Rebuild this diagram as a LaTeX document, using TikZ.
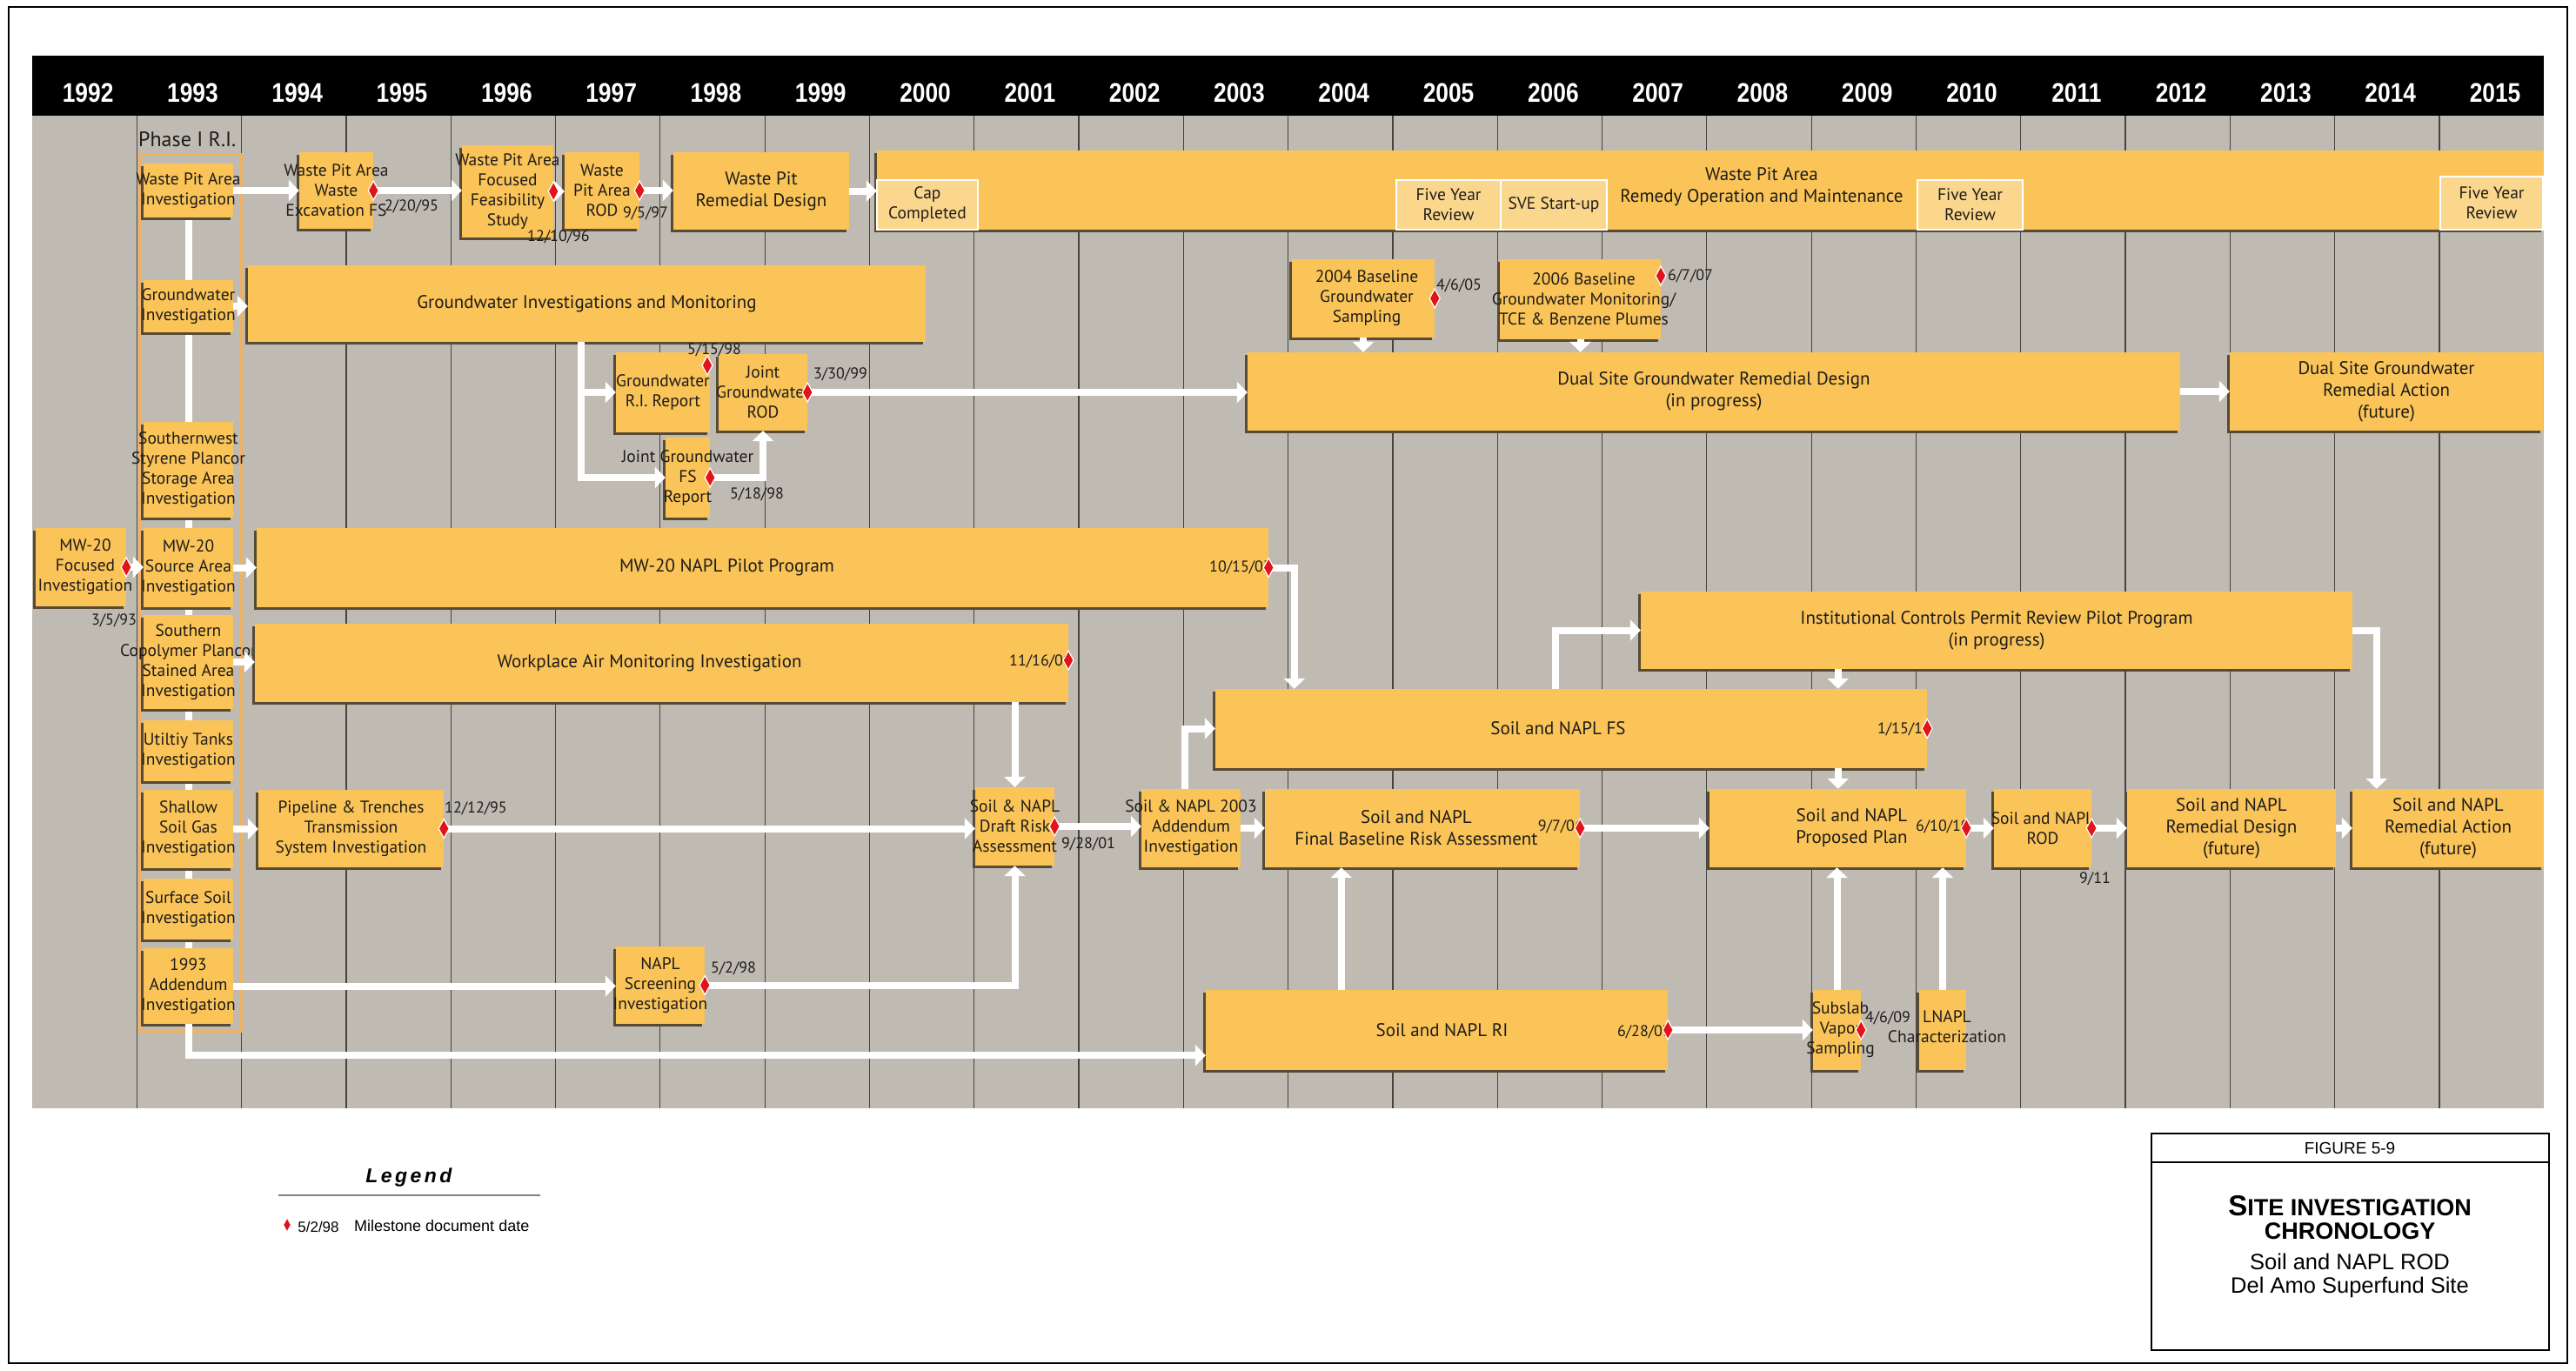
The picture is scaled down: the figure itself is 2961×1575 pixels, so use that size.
\documentclass[tikz,border=0pt]{standalone}
\usepackage{fontspec}
\usetikzlibrary{arrows.meta,calc,shadows}
\newfontfamily\bxf{PT Sans}
\newfontfamily\arf{Liberation Sans}
\newfontfamily\yrf[FakeStretch=0.85]{Liberation Sans}
\newcommand\myfs[2]{\fontsize{#1}{#2}\selectfont}
\definecolor{boxc}{RGB}{250,196,88}
\definecolor{lightc}{RGB}{251,215,142}
\definecolor{panelc}{RGB}{191,186,178}
\definecolor{shadc}{RGB}{88,74,52}
\definecolor{txtc}{RGB}{30,28,26}
\definecolor{mred}{RGB}{225,20,25}
\definecolor{phasec}{RGB}{240,178,98}
\definecolor{gridc}{RGB}{70,68,66}
\pgfdeclarelayer{bgA}\pgfdeclarelayer{bgB}
\pgfsetlayers{bgA,bgB,main}
\tikzset{
 box/.style={fill=boxc, inner sep=0pt, drop shadow={shadow xshift=-3pt,shadow yshift=-3pt,opacity=1,fill=shadc}},
 ibox/.style={fill=lightc, draw=white, line width=2pt, inner sep=0pt},
 txt/.style={inner sep=0pt, align=center, text=txtc, font=\bxf\myfs{19.5}{23}},
 bigt/.style={font=\bxf\myfs{21}{25}},
 dt/.style={inner sep=0pt, text=txtc, font=\bxf\myfs{18}{20}},
 yr/.style={font=\yrf\bfseries\myfs{31}{32}, text=white, inner sep=0pt},
 wl/.style={draw=white, line width=8pt},
 arr/.style={wl, -{Triangle[width=24pt,length=12pt]}},
 ms/.pic={\filldraw[fill=mred, draw=white, line width=1.2pt] (0,-11)--(6,0)--(0,11)--(-6,0)--cycle;},
}
\newcommand\bx[7][]{%
 \node[box,minimum width={#5-#3},minimum height={#6-#4}] (#2) at ({(#3+#5)/2},{(#4+#6)/2}) {};
 \node[txt,#1] (#2t) at (#2.center) {#7};}
\newcommand\ib[6]{%
 \node[ibox,minimum width={#4-#2},minimum height={#5-#3}] (#1) at ({(#2+#4)/2},{(#3+#5)/2}) {};
 \node[txt] (#1t) at (#1.center) {#6};}
\begin{document}
\begin{tikzpicture}[x=1pt,y=-1pt]
\useasboundingbox (0,0) rectangle (2961,1575);

% panel and header
\begin{pgfonlayer}{bgA}
\fill[white] (0,0) rectangle (2961,1575);
\draw[line width=2pt] (10,8) rectangle (2951,1567);
\fill[panelc] (37,133) rectangle (2924,1274);
\foreach \k in {1,...,23} \draw[gridc, line width=1.2pt] ({37+\k*120.3},133) -- ({37+\k*120.3},1274);
\fill[black] (37,64) rectangle (2924,133);
\end{pgfonlayer}
\foreach \yy [count=\k from 0] in {1992,...,2015} {\node[yr] (y\yy) at ({37+(\k+0.5)*120.3+4},107) {\yy};}

% Phase I column
\node[font=\bxf\myfs{24}{26}, anchor=west, text=txtc, inner sep=0pt] (ph) at (159,160) {Phase I R.I.};
\begin{pgfonlayer}{bgB}
\draw[phasec, line width=3pt] (160,177) rectangle (277,1185);
\end{pgfonlayer}
\bx{wpai}{165}{188}{268}{250}{Waste Pit Area\\Investigation}
\bx{gwi}{165}{322}{268}{382}{Groundwater\\Investigation}
\bx{sss}{165}{485}{268}{595}{Southernwest\\Styrene Plancor\\Storage Area\\Investigation}
\bx{mws}{165}{607}{268}{698}{MW-20\\Source Area\\Investigation}
\bx{scp}{165}{707}{268}{815}{Southern\\Copolymer Plancor\\Stained Area\\Investigation}
\bx{uti}{165}{828}{268}{898}{Utiltiy Tanks\\Investigation}
\bx{ssg}{165}{908}{268}{998}{Shallow\\Soil Gas\\Investigation}
\bx{ssi}{165}{1010}{268}{1080}{Surface Soil\\Investigation}
\bx{add}{165}{1090}{268}{1177}{1993\\Addendum\\Investigation}
\begin{pgfonlayer}{bgB}
\draw[wl] (wpai.south) -- (add.north);
\end{pgfonlayer}
\bx[xshift=5pt]{mwf}{41}{607}{145}{697}{MW-20\\Focused\\Investigation}

% top row
\bx{wpef}{344}{175}{429}{263}{Waste Pit Area\\Waste\\Excavation FS}
\bx{wpff}{531}{167}{636}{273}{Waste Pit Area\\Focused\\Feasibility\\Study}
\bx{wprod}{649}{175}{735}{263}{Waste\\Pit Area\\ROD}
\bx[bigt]{wprd}{774}{175}{976}{264}{Waste Pit\\Remedial Design}
\bx{wpom}{1008}{173}{2924}{264}{}
\node[txt,bigt] (wpomlbl) at (2025,215) {Waste Pit Area\\Remedy Operation and Maintenance};
\ib{cap}{1008}{207}{1124}{264}{Cap\\Completed}
\ib{fyr1}{1605}{207}{1725}{264}{Five Year\\Review}
\ib{sve}{1725}{207}{1847}{264}{SVE Start-up}
\ib{fyr2}{2204}{207}{2325}{264}{Five Year\\Review}
\ib{fyr3}{2805}{203}{2923}{264}{Five Year\\Review}

% groundwater
\bx[bigt]{gim}{285}{305}{1064}{393}{Groundwater Investigations and Monitoring}
\bx{gwri}{708}{405}{816}{497}{Groundwater\\R.I. Report}
\bx{jgrod}{826}{407}{928}{495}{Joint\\Groundwater\\ROD}
\bx{jgfs}{765}{503}{816}{595}{Joint Groundwater\\FS\\Report}
\bx[xshift=4pt]{b04}{1485}{298}{1649}{388}{2004 Baseline\\Groundwater\\Sampling}
\bx[xshift=4pt]{b06}{1724}{298}{1909}{390}{2006 Baseline\\Groundwater Monitoring/\\TCE \& Benzene Plumes}
\bx[bigt]{dsd}{1434}{405}{2506}{495}{Dual Site Groundwater Remedial Design\\(in progress)}
\bx[bigt]{dsa}{2563}{405}{2923}{495}{Dual Site Groundwater\\Remedial Action\\(future)}

% middle
\bx[bigt,xshift=-41pt]{nap}{295}{607}{1458}{698}{MW-20 NAPL Pilot Program}
\bx[bigt,xshift=-14pt]{wam}{293}{717}{1228}{807}{Workplace Air Monitoring Investigation}
\bx[bigt]{ic}{1886}{680}{2704}{769}{Institutional Controls Permit Review Pilot Program\\(in progress)}
\bx[bigt,xshift=-15pt]{fs}{1397}{792}{2215}{883}{Soil and NAPL FS}

% bottom
\bx{pip}{297}{908}{510}{997}{Pipeline \& Trenches\\Transmission\\System Investigation}
\bx{dra}{1121}{905}{1212}{995}{Soil \& NAPL\\Draft Risk\\Assessment}
\bx{a03}{1312}{907}{1426}{997}{Soil \& NAPL 2003\\Addendum\\Investigation}
\bx[bigt,xshift=-7pt]{fba}{1454}{907}{1816}{997}{Soil and NAPL\\Final Baseline Risk Assessment}
\bx[bigt,xshift=16pt]{pp}{1965}{907}{2260}{997}{Soil and NAPL\\Proposed Plan}
\bx{rod}{2292}{907}{2404}{997}{Soil and NAPL\\ROD}
\bx[bigt]{rd}{2445}{907}{2685}{997}{Soil and NAPL\\Remedial Design\\(future)}
\bx[bigt]{ra}{2704}{907}{2924}{997}{Soil and NAPL\\Remedial Action\\(future)}
\bx{nsi}{708}{1088}{810}{1177}{NAPL\\Screening\\Investigation}
\bx[bigt,xshift=6pt]{ri}{1386}{1138}{1917}{1230}{Soil and NAPL RI}
\bx[xshift=4pt]{ssv}{2084}{1138}{2139}{1230}{Subslab\\Vapor\\Sampling}
\bx[xshift=5pt,yshift=4pt]{lnc}{2206}{1138}{2260}{1230}{LNAPL\\Characterization}

% connectors
\draw[arr] (wpai.east) -- (wpai.east -| wpef.west);
\draw[arr] (wpef.east) -- (wpef.east -| wpff.west);
\draw[arr] (wpff.east) -- (wpff.east -| wprod.west);
\draw[arr] (wprod.east) -- (wprod.east -| wprd.west);
\draw[arr] (wprd.east) -- (wprd.east -| wpom.west);
\draw[arr] (gwi.east) -- (gwi.east -| gim.west);
\coordinate (gx) at ($(gwri.west)+(-40,0)$);
\draw[arr] (gx |- gim.south) |- (gwri.west);
\draw[arr] (gx |- gim.south) |- (jgfs.west);
\draw[arr] (jgfs.east) -| (jgrod.south);
\draw[arr] (jgrod.east) -- (jgrod.east -| dsd.west);
\draw[arr] (dsd.east) -- (dsd.east -| dsa.west);
\draw[arr] (b04.south) -- (b04.south |- dsd.north);
\draw[arr] (b06.south) -- (b06.south |- dsd.north);
\draw[arr] (mwf.east) -- (mwf.east -| mws.west);
\draw[arr] (mws.east) -- (mws.east -| nap.west);
\coordinate (fsin) at ($(fs.north west)+(91,0)$);
\draw[arr] (nap.east) -| (fsin);
\draw[arr] (scp.east) -- (scp.east -| wam.west);
\draw[arr] (dra.north |- wam.south) -- (dra.north);
\draw[arr] (ssg.east) -- (ssg.east -| pip.west);
\draw[arr] (pip.east) -- (pip.east -| dra.west);
\draw[arr] (dra.east) -- (dra.east -| a03.west);
\draw[arr] (a03.east) -- (a03.east -| fba.west);
\coordinate (a03up) at ($(a03.north)+(-7,0)$);
\draw[arr] (a03up) |- (fs.west);
\coordinate (fsup) at ($(fs.north west)+(391,0)$);
\draw[arr] (fsup) |- (ic.west);
\coordinate (icdn) at ($(ic.south west)+(227,0)$);
\draw[arr] (icdn) -- (icdn |- fs.north);
\draw[arr] (icdn |- fs.south) -- (icdn |- pp.north);
\coordinate (rain) at ($(ra.north west)+(28,0)$);
\draw[arr] (ic.east) -| (rain);
\draw[arr] (fba.east) -- (fba.east -| pp.west);
\draw[arr] (pp.east) -- (pp.east -| rod.west);
\draw[arr] (rod.east) -- (rod.east -| rd.west);
\draw[arr] (rd.east) -- (rd.east -| ra.west);
\draw[arr] (add.east) -- (add.east -| nsi.west);
\draw[arr] (nsi.east) -| (dra.south);
\coordinate (riin) at ($(ri.south west)+(0,-17)$);
\draw[arr] (add.south) |- (riin);
\coordinate (riup) at ($(ri.north west)+(156,0)$);
\draw[arr] (riup) -- (riup |- fba.south);
\draw[arr] (ri.east) -- (ri.east -| ssv.west);
\draw[arr] (ssv.north) -- (ssv.north |- pp.south);
\draw[arr] (lnc.north) -- (lnc.north |- pp.south);

% dates
\node[dt] (d1) at (131,713) {3/5/93};
\node[dt] (d2) at (473,237) {2/20/95};
\node[dt] (d3) at (642,272) {12/10/96};
\node[dt] (d4) at (742,245) {9/5/97};
\node[dt] (d5) at (821,402) {5/15/98};
\node[dt] (d6) at (966,430) {3/30/99};
\node[dt] (d7) at (870,568) {5/18/98};
\node[dt] (d8) at (1677,328) {4/6/05};
\node[dt] (d9) at (1943,317) {6/7/07};
\node[dt,anchor=east] (d10) at (1462,652) {10/15/03};
\node[dt,anchor=east] (d11) at (1232,760) {11/16/00};
\node[dt,anchor=east] (d12) at (2220,838) {1/15/10};
\node[dt] (d13) at (547,929) {12/12/95};
\node[dt] (d14) at (1251,970) {9/28/01};
\node[dt,anchor=east] (d15) at (1820,950) {9/7/06};
\node[dt,anchor=east] (d16) at (2264,950) {6/10/10};
\node[dt] (d17) at (2408,1010) {9/11};
\node[dt] (d18) at (843,1113) {5/2/98};
\node[dt,anchor=east] (d19) at (1921,1186) {6/28/07};
\node[dt] (d20) at (2170,1170) {4/6/09};

% milestone diamonds
\pic at (mwf.east) {ms};
\pic at (wpef.east) {ms};
\pic at (wpff.east) {ms};
\pic at (wprod.east) {ms};
\pic at (813,420) {ms};
\pic at (jgrod.east) {ms};
\pic at (jgfs.east) {ms};
\pic at (b04.east) {ms};
\pic at (1909,317) {ms};
\pic at (nap.east) {ms};
\pic at (1228,759) {ms};
\pic at (fs.east) {ms};
\pic at (pip.east) {ms};
\pic at (dra.east) {ms};
\pic at (fba.east) {ms};
\pic at (pp.east) {ms};
\pic at (rod.east) {ms};
\pic at (nsi.east) {ms};
\pic at (ri.east) {ms};
\pic at (ssv.east) {ms};

% legend
\node[font=\arf\bfseries\itshape\myfs{23}{26}, inner sep=0pt] (leg) at (470,1354) {\addfontfeature{LetterSpace=15}Legend};
\draw[gray, line width=1.5pt] (320,1374) -- (621,1374);
\pic[scale=0.75] at (330,1408) {ms};
\node[font=\arf\myfs{17}{20}, inner sep=0pt] (lg1) at (366,1410) {5/2/98};
\node[font=\arf\myfs{18}{20}, anchor=west, inner sep=0pt] (lg2) at (407,1409) {Milestone document date};

% title block
\draw[line width=1.5pt] (2473,1303) rectangle (2930,1552);
\draw[line width=1.5pt] (2473,1336) -- (2930,1336);
\node[font=\arf\myfs{19}{22}, inner sep=0pt] (fig) at (2701,1320) {FIGURE 5-9};
\node[font=\arf\bfseries\myfs{27}{27}, align=center, inner sep=0pt] (ttl) at (2701,1400) {{\myfs{33}{27}S}ITE INVESTIGATION\\CHRONOLOGY};
\node[font=\arf\myfs{25.5}{27}, align=center, inner sep=0pt] (sub) at (2701,1466) {Soil and NAPL ROD\\Del Amo Superfund Site};
\end{tikzpicture}
\end{document}
